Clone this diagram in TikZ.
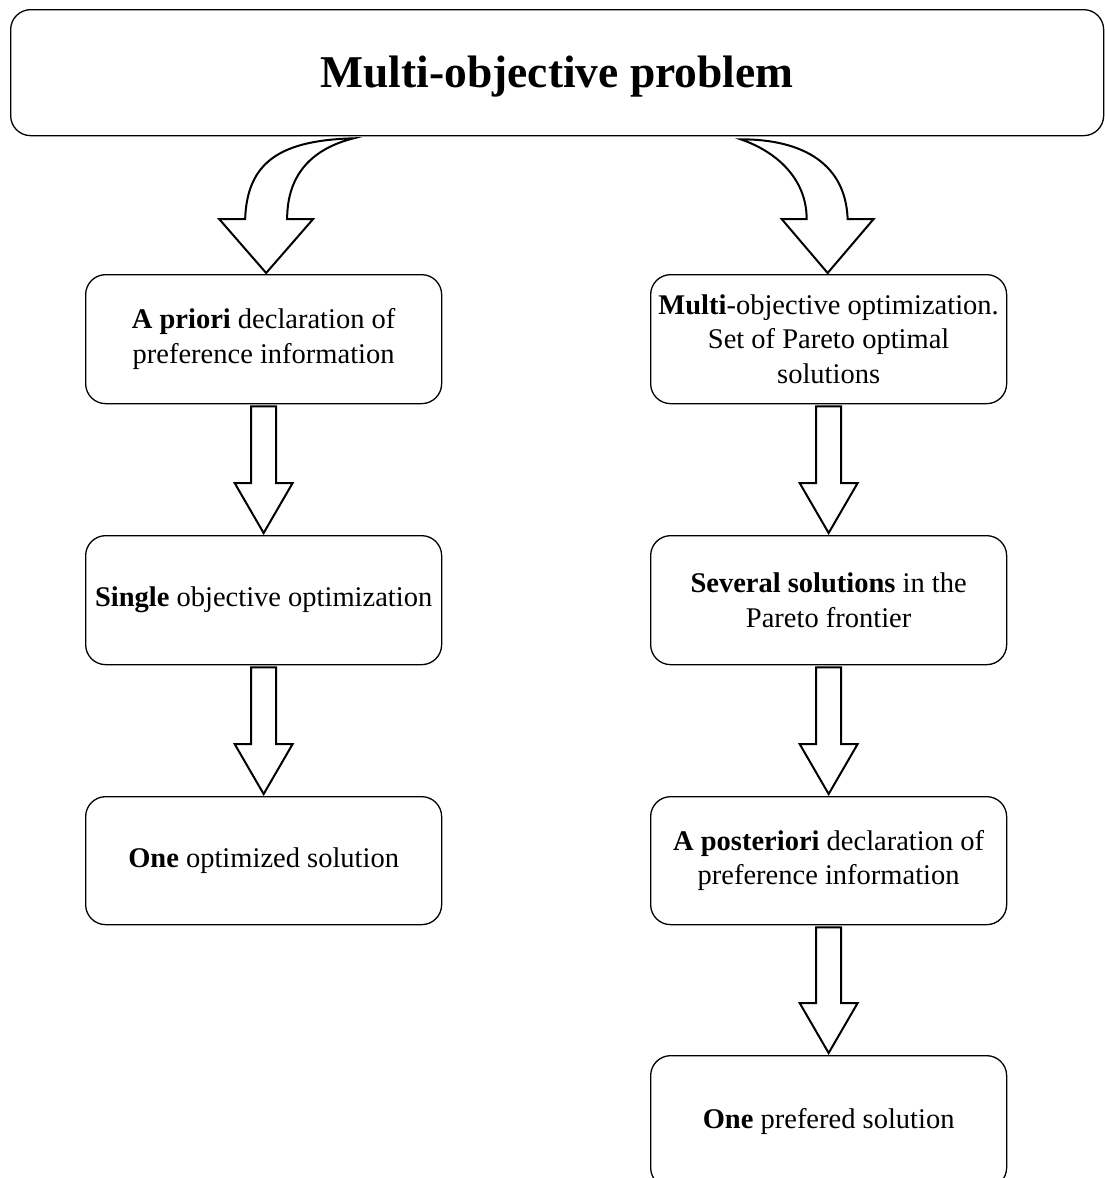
\documentclass[tikz,border=0pt]{standalone}
\usepackage{fontspec}
\setmainfont{Liberation Serif}
\usetikzlibrary{calc}
\newcommand{\blockarrow}[2]{%
  \draw[blk] ($(#1.south)+(-12.5,2)$) -- ($(#2.north)+(-12.5,-52)$) -- ($(#2.north)+(-29,-52)$)
    -- ($(#2.north)+(0,-2)$) -- ($(#2.north)+(29,-52)$) -- ($(#2.north)+(12.5,-52)$)
    -- ($(#1.south)+(12.5,2)$) -- cycle;}
\begin{document}
\begin{tikzpicture}[x=1pt,y=-1pt,
  box/.style={draw, line width=1.3pt, rounded corners=20pt, minimum width=356pt,
    minimum height=129pt, align=center, inner sep=0pt,
    font=\fontsize{28.5}{34.5}\selectfont, anchor=north west},
  blk/.style={draw, line width=2pt, line join=miter, fill=white}]
\useasboundingbox (0,0) rectangle (1105,1178);
\clip (0,0) rectangle (1105,1178);

\node[box, minimum width=1093pt, minimum height=126pt,
  font=\fontsize{45.5}{54}\selectfont\bfseries] (top) at (10,9) {\raisebox{-15pt}[0pt][0pt]{Multi-objective problem}};

\node[box] (a1) at (85,274) {\textbf{A priori} declaration of\\preference information};
\node[box] (a2) at (85,535) {\textbf{Single} objective optimization};
\node[box, minimum height=128pt] (a3) at (85,796) {\textbf{One} optimized solution};

\node[box] (b1) at (650,274) {\textbf{Multi}-objective optimization.\\Set of Pareto optimal\\solutions};
\node[box] (b2) at (650,535) {\textbf{Several solutions} in the\\Pareto frontier};
\node[box, minimum height=128pt] (b3) at (650,796) {\textbf{A posteriori} declaration of\\preference information};
\node[box, minimum height=132pt] (b4) at (650,1055) {\textbf{One} prefered solution};

\coordinate (pL) at ($(top.south)+(-203.5,2)$);
\coordinate (tL) at ($(a1.north)+(2.5,-1)$);
\coordinate (pR) at ($(top.south)+(183.5,3)$);
\coordinate (tR) at ($(b1.north)+(-1,-1)$);

\draw[blk] (pL) .. controls ($(pL)+(-72,2)$) and ($(tL)+(-19,-112)$) .. ($(tL)+(-21,-54)$)
  -- ($(tL)+(-47,-54)$) -- (tL) -- ($(tL)+(47,-54)$) -- ($(tL)+(21,-54)$)
  .. controls ($(tL)+(21,-100)$) and ($(pL)+(-40,10)$) .. (pL) -- cycle;

\draw[blk] (pR) .. controls ($(pR)+(64,0)$) and ($(tR)+(18,-108)$) .. ($(tR)+(20,-54)$)
  -- ($(tR)+(46,-54)$) -- (tR) -- ($(tR)+(-46,-54)$) -- ($(tR)+(-21,-54)$)
  .. controls ($(tR)+(-21,-95)$) and ($(pR)+(35,12)$) .. (pR) -- cycle;

\blockarrow{a1}{a2}
\blockarrow{a2}{a3}
\blockarrow{b1}{b2}
\blockarrow{b2}{b3}
\blockarrow{b3}{b4}
\end{tikzpicture}
\end{document}
